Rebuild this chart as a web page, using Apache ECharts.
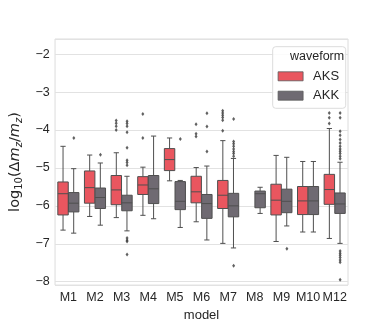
<!DOCTYPE html>
<html>
<head>
<meta charset="utf-8">
<script src="https://cdn.jsdelivr.net/npm/echarts@6/dist/echarts.min.js"></script>
<style>
  html, body { margin: 0; padding: 0; background: #fff; }
  #chart { width: 387px; height: 327px; }
</style>
</head>
<body>
<div id="chart"></div>
<script>
const models = ['M1', 'M2', 'M3', 'M4', 'M5', 'M6', 'M7', 'M8', 'M9', 'M10', 'M12'];

// [lower whisker, Q1, median, Q3, upper whisker]
const aksBoxes = [
  [-6.64, -6.24, -5.68, -5.37, -4.43],
  [-6.28, -5.93, -5.52, -5.08, -4.66],
  [-6.31, -5.97, -5.58, -5.20, -4.60],
  [-6.25, -5.70, -5.45, -5.23, -4.98],
  [-5.34, -5.07, -4.78, -4.49, -4.21],
  [-6.42, -5.92, -5.63, -5.22, -4.99],
  [-6.99, -6.07, -5.72, -5.33, -4.28],
  null,
  [-6.94, -6.24, -5.85, -5.43, -4.67],
  [-6.69, -6.23, -5.87, -5.49, -4.83],
  [-6.86, -5.96, -5.57, -5.17, -3.96]
];
const akkBoxes = [
  [-6.72, -6.16, -5.93, -5.65, -5.02],
  [-6.51, -6.07, -5.78, -5.53, -4.87],
  [-6.66, -6.13, -5.92, -5.72, -5.22],
  [-6.34, -5.94, -5.55, -5.20, -4.16],
  [-6.57, -6.10, -5.88, -5.36, -5.33],
  [-6.90, -6.33, -5.94, -5.70, -4.95],
  [-7.11, -6.29, -6.00, -5.67, -4.75],
  [-6.20, -6.05, -5.68, -5.61, -5.51],
  [-6.53, -6.18, -5.88, -5.56, -4.72],
  [-6.69, -6.23, -5.87, -5.49, -4.83],
  [-6.99, -6.20, -5.95, -5.66, -4.85]
];

// outliers as [model, value]
const aksOutliers = [
  ['M3', -3.75], ['M3', -3.82], ['M3', -3.90], ['M3', -4.00],
  ['M4', -3.58], ['M4', -4.21],
  ['M6', -3.85], ['M6', -4.10], ['M6', -4.17],
  ['M7', -3.49], ['M7', -3.55], ['M7', -3.61], ['M7', -3.67], ['M7', -3.74], ['M7', -4.02],
  ['M12', -3.55], ['M12', -3.68], ['M12', -3.83]
];
const akkOutliers = [
  ['M1', -4.21],
  ['M2', -4.65],
  ['M3', -3.77], ['M3', -3.83], ['M3', -3.90], ['M3', -4.06], ['M3', -4.47], ['M3', -4.80],
  ['M3', -4.86], ['M3', -4.93], ['M3', -6.85], ['M3', -6.91], ['M3', -6.94], ['M3', -7.28],
  ['M5', -4.24],
  ['M6', -3.56], ['M6', -3.91], ['M6', -4.57],
  ['M7', -3.71], ['M7', -4.30], ['M7', -4.36], ['M7', -4.43], ['M7', -4.50], ['M7', -4.57],
  ['M7', -4.62], ['M7', -4.69], ['M7', -7.58],
  ['M9', -7.13],
  ['M12', -3.55], ['M12', -3.68], ['M12', -4.03], ['M12', -4.14], ['M12', -4.25], ['M12', -4.34],
  ['M12', -4.43], ['M12', -4.50], ['M12', -4.56], ['M12', -4.62], ['M12', -4.69], ['M12', -4.76],
  ['M12', -7.19], ['M12', -7.25], ['M12', -7.30], ['M12', -7.36], ['M12', -7.43], ['M12', -7.49],
  ['M12', -7.95]
];

const RED = '#e9565f';
const GREY = '#6f6a72';
const EDGE = '#4f4f4f';
const FONT = '"Liberation Sans", Arial, sans-serif';
const MATH = '"DejaVu Sans", sans-serif';
const TXT = '#262626';

function toRows(boxes) {
  const rows = [];
  boxes.forEach((b, i) => { if (b) rows.push([i].concat(b)); });
  return rows;
}

// seaborn-like box: dodge offset as fraction of band width
function boxRenderer(offsetFrac, fill) {
  return function (params, api) {
    const i = api.value(0);
    const bw = api.size([1, 0])[0];
    const cx = api.coord([i, 0])[0] + offsetFrac * bw;
    const w = bw * 0.392;
    const cap = w / 4;
    const y = k => api.coord([i, api.value(k)])[1];
    const lo = y(1), q1 = y(2), md = y(3), q3 = y(4), hi = y(5);
    const line = (x1, y1, x2, y2) => ({
      type: 'line', shape: { x1, y1, x2, y2 }, style: { stroke: EDGE, lineWidth: 1 }
    });
    return {
      type: 'group',
      children: [
        line(cx, q3, cx, hi),
        line(cx, q1, cx, lo),
        line(cx - cap, hi, cx + cap, hi),
        line(cx - cap, lo, cx + cap, lo),
        { type: 'rect', shape: { x: cx - w / 2, y: q3, width: w, height: q1 - q3 },
          style: { fill: fill, stroke: EDGE, lineWidth: 1 } },
        line(cx - w / 2, md, cx + w / 2, md)
      ]
    };
  };
}

const chart = echarts.init(document.getElementById('chart'), null, { renderer: 'canvas' });

const minus = v => String(v).replace('-', '\u2212');

chart.setOption({
  animation: false,
  backgroundColor: '#fff',
  textStyle: { fontFamily: FONT },
  grid: { left: 48.7, right: 39, top: 39, bottom: 41.3, show: true, borderColor: '#dcdcdc', borderWidth: 1 },
  xAxis: {
    type: 'category',
    data: models,
    name: 'model',
    nameLocation: 'middle',
    nameGap: 19,
    nameTextStyle: { fontSize: 13, color: TXT, fontFamily: FONT },
    axisLine: { show: false },
    axisTick: { show: false },
    axisLabel: { interval: 0, margin: 6, fontSize: 12.5, color: TXT, fontFamily: FONT },
    splitLine: { show: false }
  },
  yAxis: {
    type: 'value',
    min: -8.09,
    max: -1.6,
    splitNumber: 7,
    name: '{a|log}{b|10}{a|(Δ}{c|m}{d|z}{a|/}{c|m}{d|z}{a|)}',
    nameLocation: 'middle',
    nameGap: 19,
    nameTextStyle: {
      color: TXT,
      fontFamily: MATH,
      rich: {
        a: { fontSize: 14.5, lineHeight: 18, color: TXT, fontFamily: MATH },
        b: { fontSize: 10, lineHeight: 18, verticalAlign: 'bottom', color: TXT, fontFamily: MATH },
        c: { fontSize: 14.5, lineHeight: 18, fontStyle: 'italic', color: TXT, fontFamily: MATH },
        d: { fontSize: 10, lineHeight: 18, fontStyle: 'italic', verticalAlign: 'bottom', color: TXT, fontFamily: MATH }
      }
    },
    axisLine: { show: false },
    axisTick: { show: false },
    axisLabel: { margin: 5.4, fontSize: 12.5, color: TXT, fontFamily: FONT, formatter: minus,
                 showMinLabel: false, showMaxLabel: false },
    splitLine: { lineStyle: { color: '#e2e2e2', width: 1 } }
  },
  legend: {
    orient: 'vertical',
    left: 272.7,
    top: 46.7,
    padding: [22.6, 6.6, 5.6, 5],
    itemWidth: 25,
    itemHeight: 9,
    itemGap: 5.4,
    backgroundColor: 'rgba(255,255,255,0.85)',
    borderColor: '#dcdcdc',
    borderWidth: 1,
    borderRadius: 3,
    itemStyle: { borderColor: '#5a5a5a', borderWidth: 0.8 },
    textStyle: { fontSize: 13, lineHeight: 14, color: TXT, fontFamily: FONT, padding: [0, 0, 0, 5] },
    data: [{ name: 'AKS', icon: 'rect' }, { name: 'AKK', icon: 'rect' }]
  },
  graphic: [{
    type: 'text',
    left: 290,
    top: 50.5,
    z: 100,
    style: { text: 'waveform', fontSize: 12.5, fill: TXT, fontFamily: FONT }
  }],
  series: [
    {
      name: 'AKS',
      type: 'custom',
      renderItem: boxRenderer(-0.2, RED),
      itemStyle: { color: RED },
      encode: { x: 0, y: [1, 2, 3, 4, 5] },
      data: toRows(aksBoxes)
    },
    {
      name: 'AKK',
      type: 'custom',
      renderItem: boxRenderer(0.2, GREY),
      itemStyle: { color: GREY },
      encode: { x: 0, y: [1, 2, 3, 4, 5] },
      data: toRows(akkBoxes)
    },
    {
      name: 'AKS',
      type: 'scatter',
      symbol: 'diamond',
      symbolSize: [3, 4],
      symbolOffset: [-5.44, 0],
      itemStyle: { color: '#3a3a3a' },
      data: aksOutliers
    },
    {
      name: 'AKK',
      type: 'scatter',
      symbol: 'diamond',
      symbolSize: [3, 4],
      symbolOffset: [5.44, 0],
      itemStyle: { color: '#3a3a3a' },
      data: akkOutliers
    }
  ]
});
</script>
</body>
</html>
